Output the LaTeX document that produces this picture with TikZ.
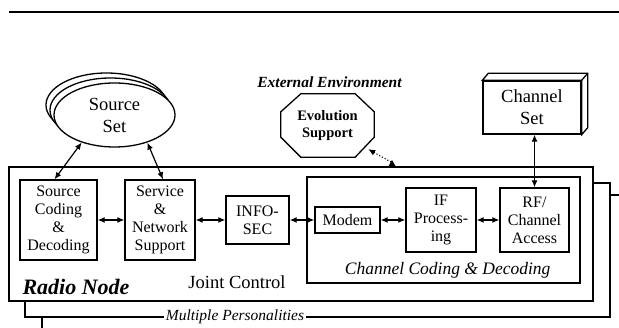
\documentclass[tikz,border=0pt]{standalone}
\usepackage{fontspec}
\setmainfont{Liberation Serif}
\usetikzlibrary{positioning,arrows.meta,shapes.geometric}

\tikzset{
  blk/.style={draw, line width=1.4pt, fill=white, inner sep=0pt, align=center, font=\fontsize{16}{18}\selectfont},
  frame/.style={draw, line width=1.4pt, fill=white},
  biarr/.style={line width=1.2pt, {Latex[length=7pt,width=6pt]}-{Latex[length=7pt,width=6pt]}},
  srcell/.style={ellipse, draw, line width=1.3pt, fill=white, minimum width=121pt, minimum height=64pt, inner sep=0pt},
}

\begin{document}
\begin{tikzpicture}[x=1pt,y=-1pt]
\path[use as bounding box] (0,0) rectangle (619,328);
\clip (0,0) rectangle (619,328);

\draw[line width=1.2pt] (9,12) -- (619,12);

% personalities behind the radio node
\draw[frame] (42,195) rectangle (650,350);
\draw[frame] (25,183) rectangle (610,317);
\node[fill=white, inner sep=2pt, font=\itshape\fontsize{15.5}{17}\selectfont] (multi) at (235,317) {Multiple Personalities};
\node[frame, inner sep=0pt, minimum width=584pt, minimum height=134pt] (radio) at (301,234) {};
\node[frame, inner sep=0pt, minimum width=273pt, minimum height=106pt] (chcod) at (443.5,230) {};

\node[blk, minimum width=77pt, minimum height=80pt] (srccod) at (58.5,220) {Source\\Coding\\\&\\Decoding};
\node[blk, minimum width=70pt, minimum height=80pt] (svc) at (160,220) {Service\\\&\\Network\\Support};
\node[blk, minimum width=63pt, minimum height=48pt] (infosec) at (257.5,220) {INFO-\\SEC};
\node[blk, minimum width=65pt, minimum height=26pt] (modem) at (347.5,220) {Modem};
\node[blk, minimum width=70pt, minimum height=64pt] (ifproc) at (441,220) {IF\\Process-\\ing};
\node[blk, minimum width=69pt, minimum height=64pt] (rfacc) at (534.5,220) {RF/\\Channel\\Access};

\node[anchor=west, font=\bfseries\itshape\fontsize{22}{24}\selectfont] (radiolbl) at (19,287) {Radio Node};
\node[font=\fontsize{18.5}{20}\selectfont] (joint) at (237,282) {Joint Control};
\node[anchor=east, font=\itshape\fontsize{17.5}{19}\selectfont] (chcodlbl) at (554,270) {Channel Coding \& Decoding};

% source set
\node[srcell] (srcsetc) at (106.5,105) {};
\node[srcell] (srcsetb) at (110.5,110) {};
\node[srcell, align=center, font=\fontsize{18.5}{22}\selectfont] (srcset) at (114.5,115) {Source\\Set};

% channel set
\node[blk, font=\fontsize{18.5}{22}\selectfont, minimum width=98pt, minimum height=53pt] (chset) at (532,107.5) {Channel\\Set};
\draw[line width=1.3pt, fill=white] (chset.north west) -- ++(6,-7) -- ([shift={(6,-7)}]chset.north east) -- ([shift={(6,-7)}]chset.south east) -- (chset.south east) -- (chset.north east) -- cycle;
\draw[line width=1.3pt] (chset.north east) -- ++(6,-7);

% evolution support
\node[font=\bfseries\itshape\fontsize{15.5}{18}\selectfont] (extenv) at (329.5,82) {External Environment};
\node[inner sep=0pt, minimum width=93pt, minimum height=63pt, align=center, font=\bfseries\fontsize{14.5}{16.5}\selectfont] (evo) at (327.5,125.5) {Evolution\\Support};
\draw[line width=1.3pt] ([xshift=20pt]evo.north west) -- ([xshift=-19pt]evo.north east) -- ([yshift=-18pt]evo.north east) -- ([yshift=20pt]evo.south east) -- ([xshift=-19pt]evo.south east) -- ([xshift=20pt]evo.south west) -- ([yshift=20pt]evo.south west) -- ([yshift=-18pt]evo.north west) -- cycle;
\coordinate (evfoot) at (391,162);
\draw[line width=1.1pt, dotted, -{Latex[length=7pt,width=6pt]}] (evfoot) -- ([shift={(-6,-8)}]evo.south east);
\fill (388,167) -- (396,167) -- (392,160) -- cycle;

\draw[biarr] (srcset.220) -- ([xshift=-4pt]srccod.north);
\draw[biarr] (srcset.320) -- ([xshift=3pt]svc.north);
\draw[biarr] (srccod) -- (svc);
\draw[biarr] (svc) -- (infosec);
\draw[biarr] (infosec) -- (modem);
\draw[biarr] (modem) -- (ifproc);
\draw[biarr] (ifproc) -- (rfacc);
\draw[biarr] (chset.south -| rfacc.north) -- (rfacc.north);
\end{tikzpicture}
\end{document}
